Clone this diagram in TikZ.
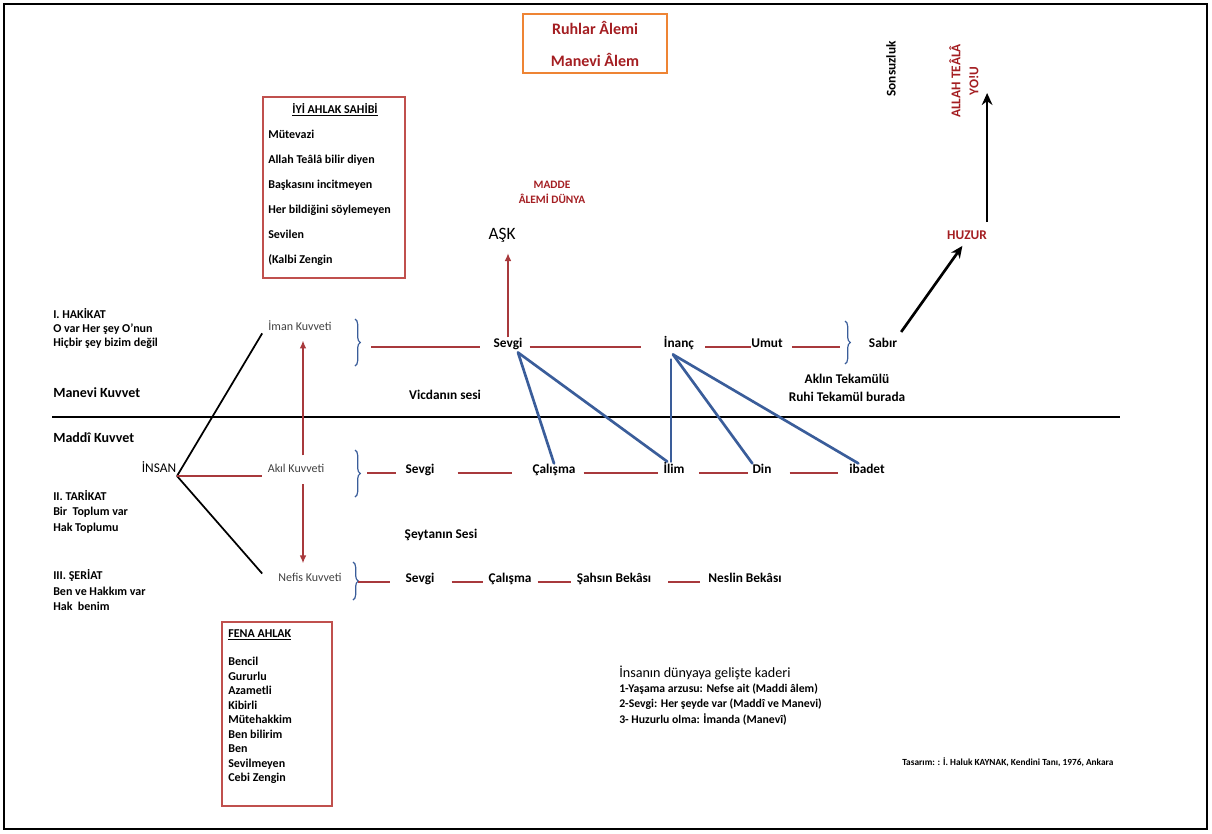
\documentclass[tikz,border=0pt]{standalone}
\usepackage{fontspec}
\setmainfont{Carlito}
\usetikzlibrary{arrows.meta,decorations.pathreplacing}
\definecolor{ruby}{HTML}{A41E22}
\definecolor{wine}{HTML}{A8393C}
\definecolor{slate}{HTML}{3A5D9A}
\definecolor{amber}{HTML}{EE8434}
\definecolor{rosy}{HTML}{C0504D}
\definecolor{dim}{HTML}{404040}
\tikzset{>=Latex,lbl/.style={font=\bfseries\fontsize{10}{12}\selectfont,inner sep=0pt,anchor=base},side/.style={font=\bfseries\fontsize{9}{11}\selectfont,inner sep=0pt,anchor=base west},kuv/.style={font=\fontsize{9}{11}\selectfont,text=dim,inner sep=0pt,anchor=base},listbox/.style={draw=rosy,line width=1pt},seg/.style={wine,line width=1.5pt},tie/.style={slate,line width=2pt,line cap=round},kol/.style={line width=1.3pt},brc/.style={slate,line width=.9pt,decorate,decoration={brace,amplitude=4pt}},redarr/.style={-{Latex[length=6pt,width=5pt]},wine,line width=1.3pt},blkarr/.style={-{Stealth[length=9pt,width=8pt]},line width=2pt}}

\begin{document}
\begin{tikzpicture}[x=.75pt,y=-.75pt]
\useasboundingbox (0,0) rectangle (1212,833);
\draw[line width=1pt] (4,4) rectangle (1207,829);
\draw[line width=1pt] (52,417) -- (1120,417);
% top
\node[draw=amber,line width=1.5pt,text=ruby,font=\bfseries\fontsize{12}{24}\selectfont,align=center,minimum width=108pt,minimum height=44pt] (alem) at (595,43.5) {Ruhlar Âlemi\\Manevi Âlem};
\node[lbl,rotate=90,anchor=center] (son) at (891,69) {Sonsuzluk};
\node[lbl,rotate=90,anchor=center,align=center,text=ruby,font=\bfseries\fontsize{10}{13.5}\selectfont] (yol) at (964,81) {ALLAH TEÂLÂ\\YO!U};
\node[lbl,text=ruby] (hz) at (967,239) {HUZUR};
\coordinate (zirve) at (988,93);
\node[align=center,text=ruby,inner sep=0pt,font=\bfseries\fontsize{8.5}{11.25}\selectfont] (madde) at (552,192) {MADDE\\ÂLEMİ DÜNYA};
\node[inner sep=0pt,font=\fontsize{13}{15}\selectfont] (ask) at (502,235) {AŞK};
% iyi ahlak
\node[listbox,minimum width=106.5pt,minimum height=135.75pt] (iyi) at (334,187.5) {};
\node[lbl,font=\bfseries\fontsize{9}{11}\selectfont] (iyiT) at (335,113.5) {\underline{İYİ AHLAK SAHİBİ}};
\foreach \t [count=\i] in {Mütevazi,Allah Teâlâ bilir diyen,Başkasını incitmeyen,Her bildiğini söylemeyen,Sevilen,{(Kalbi Zengin}}
  \node[side] (iyi\i) at (268,{113.5+25*\i}) {\t};
% fena ahlak
\node[listbox,minimum width=82.5pt,minimum height=138pt] (fena) at (277,714) {};
\node[side] (fenaT) at (228,637.5) {\underline{FENA AHLAK}};
\foreach \t [count=\i] in {Bencil,Gururlu,Azametli,Kibirli,Mütehakkim,Ben bilirim,Ben,Sevilmeyen,Cebi Zengin}
  \node[side] (fena\i) at (228,{651+14.5*\i}) {\t};
% left column
\foreach \y/\t [count=\i] in {318.5/I. HAKİKAT,332.5/O var Her şey O'nun,346.5/Hiçbir şey bizim değil,500.5/II. TARİKAT,515.5/Bir~ Toplum var,531.5/Hak Toplumu,579.5/III. ŞERİAT,595.5/Ben ve Hakkım var,610.5/Hak~ benim}
  \node[side] (sol\i) at (53,\y) {\t};
\node[side,font=\bfseries\fontsize{10.5}{12}\selectfont] (manevi) at (53,397.5) {Manevi Kuvvet};
\node[side,font=\bfseries\fontsize{10.5}{12}\selectfont] (maddi) at (53,442) {Maddî Kuvvet};
\node[kuv,text=black,font=\fontsize{10}{12}\selectfont] (ins) at (159,472) {İNSAN};
\node[kuv] (im) at (300,330) {İman Kuvveti};
\node[kuv] (ak) at (296,472) {Akıl Kuvveti};
\node[kuv] (nef) at (310,581) {Nefis Kuvveti};
% rows
\foreach \n/\x/\t in {s1/508/Sevgi,inc/679/İnanç,um/767/Umut,sab/883/Sabır}
  \node[lbl] (\n) at (\x,347) {\t};
\foreach \n/\x/\t in {s2/420/Sevgi,c2/554/Çalışma,il/674/İlim,din/762/Din,ib/867/ibadet}
  \node[lbl] (\n) at (\x,473) {\t};
\foreach \n/\x/\t in {s3/420/Sevgi,c3/510/Çalışma,sb/614/Şahsın Bekâsı,nb/745/Neslin Bekâsı}
  \node[lbl] (\n) at (\x,582) {\t};
\node[lbl] (vic) at (445,399) {Vicdanın sesi};
\node[lbl] (sey) at (441,538) {Şeytanın Sesi};
\node[lbl] (tek1) at (847,383) {Aklın Tekamülü};
\node[lbl] (tek2) at (847,401) {Ruhi Tekamül burada};
% bottom notes
\node[kuv,anchor=base west,text=black,font=\fontsize{10.6}{12}\selectfont] (kader) at (619,677) {İnsanın dünyaya gelişte kaderi};
\node[side,font=\bfseries\fontsize{8.8}{10}\selectfont] (k1t) at (619,692) {1-Yaşama arzusu: Nefse ait (Maddi âlem)};
\node[side,font=\bfseries\fontsize{8.8}{10}\selectfont] (k2t) at (619,707.5) {2-Sevgi: Her şeyde var (Maddî ve Manevi)};
\node[side,font=\bfseries\fontsize{8.8}{10}\selectfont] (k3t) at (619,723) {3- Huzurlu olma: İmanda (Manevî)};
\node[side,font=\bfseries\fontsize{7}{8}\selectfont] (tas) at (902,765.5) {Tasarım: : İ. Haluk KAYNAK, Kendini Tanı, 1976, Ankara};
% braces
\foreach \n/\x/\a/\b/\y in {k1/355/319/366/347,k2/355/450/497/473,k3/353/562/600/582,k4/845/321/364/347}
  {\draw[brc] (\x,\a) -- (\x,\b); \coordinate (\n) at (\x,\y);}
% red segments
\foreach \a/\b/\p/\q in {k1/s1.base west/12pt/9.75pt,s1.base east/inc.base west/5.25pt/17.25pt,inc.base east/um.base west/8.25pt/0pt,um.base east/k4/6.75pt/3.75pt,k2/s2.base west/9pt/6.75pt,s2.base east/c2.base west/17.25pt/15pt,c2.base east/il.base west/6pt/3.75pt,il.base east/din.base west/10.5pt/3pt,din.base east/ib.base west/13.5pt/8.25pt,k3/s3.base west/3.75pt/11.25pt,s3.base east/c3.base west/12.75pt/3.75pt,c3.base east/sb.base west/4.5pt/4.5pt,sb.base east/nb.base west/12.75pt/6pt}
  \draw[seg,shorten <=\p,shorten >=\q] (\a) -- (\b);
% insan
\coordinate (hub) at (177,476);
\draw[kol] (hub) -- ([xshift=-4.5pt,yshift=-2.25pt]im.south west);
\draw[kol] (hub) -- ([xshift=-12pt,yshift=5.6pt]nef.base west);
\draw[seg,shorten >=4.5pt] (hub) -- (hub -| ak.west);
\draw[redarr,shorten <=6pt,shorten >=7.5pt] ([xshift=5.25pt]ak.north) -- ([xshift=5.25pt]ak.north |- im.south);
\draw[redarr,shorten <=9pt,shorten >=6.75pt] ([xshift=5.25pt]ak.south) -- ([xshift=5.25pt]ak.south |- nef.north);
\draw[redarr,shorten >=8pt] (s1.north) -- (s1.north |- ask.south);
% blue ties
\coordinate (sv) at ([xshift=7.5pt,yshift=-2.25pt]s1.south);
\coordinate (ap) at ([xshift=-4.5pt,yshift=-3.75pt]inc.south);
\draw[tie] (sv) -- (c2.north);
\draw[tie] (sv) -- ([xshift=3pt]il.north west);
\draw[tie] ([xshift=-2.25pt]il.north) -- ([xshift=-2.25pt,yshift=-3.75pt]il.north |- ap);
\draw[tie] (ap) -- (din.north west);
\draw[tie] (ap) -- ([xshift=7pt]ib.north west);
% huzur
\draw[blkarr,shorten <=6pt] (hz.north east) -- (hz.north east |- zirve);
\draw[blkarr,shorten <=5pt,shorten >=6pt] (sab.north east) -- (hz.south);
\end{tikzpicture}
\end{document}
